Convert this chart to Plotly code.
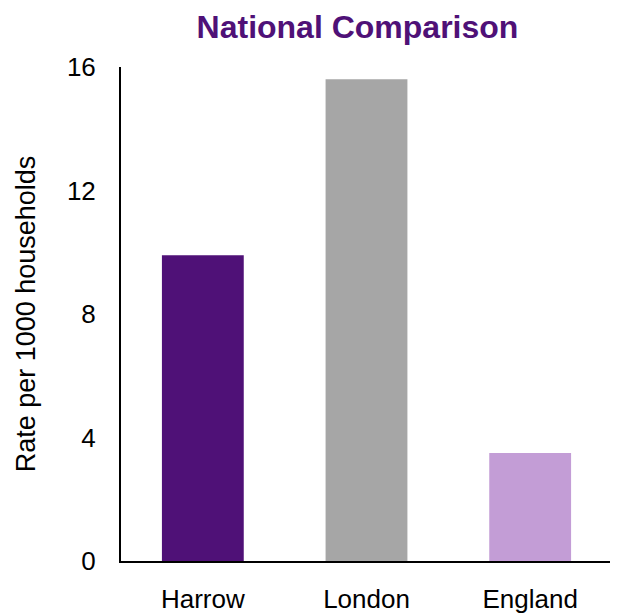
import plotly.graph_objects as go

categories = ["Harrow", "London", "England"]
values = [9.9, 15.6, 3.5]
colors = ["#4f1177", "#a6a6a6", "#c39dd6"]
y_ticks = [0, 4, 8, 12, 16]

fig = go.Figure(go.Bar(x=categories, y=values, marker_color=colors, marker_line_width=0, width=0.5))

fig.update_layout(
    width=618, height=615,
    margin=dict(l=113, r=14, t=59, b=62),
    plot_bgcolor="white", paper_bgcolor="white",
    font=dict(family="Liberation Sans, Arial", size=26, color="black"),
    title=dict(text="<b>National Comparison</b>", x=0.5655, xref="container", xanchor="center",
               y=0.969, yref="container", yanchor="middle",
               font=dict(size=32, color="#4f1177")),
    showlegend=False,
)
fig.update_yaxes(range=[0, 16], tickvals=y_ticks, showgrid=False, zeroline=False,
                 showline=True, linecolor="black", linewidth=2, ticks="",
                 ticklabelstandoff=18, automargin=False,
                 title=dict(text="Rate per 1000 households", standoff=23, font=dict(size=27)))
fig.update_xaxes(showline=True, linecolor="black", linewidth=2, ticks="", showgrid=False,
                 ticklabelstandoff=14, automargin=False)

fig.write_html("out.html")
